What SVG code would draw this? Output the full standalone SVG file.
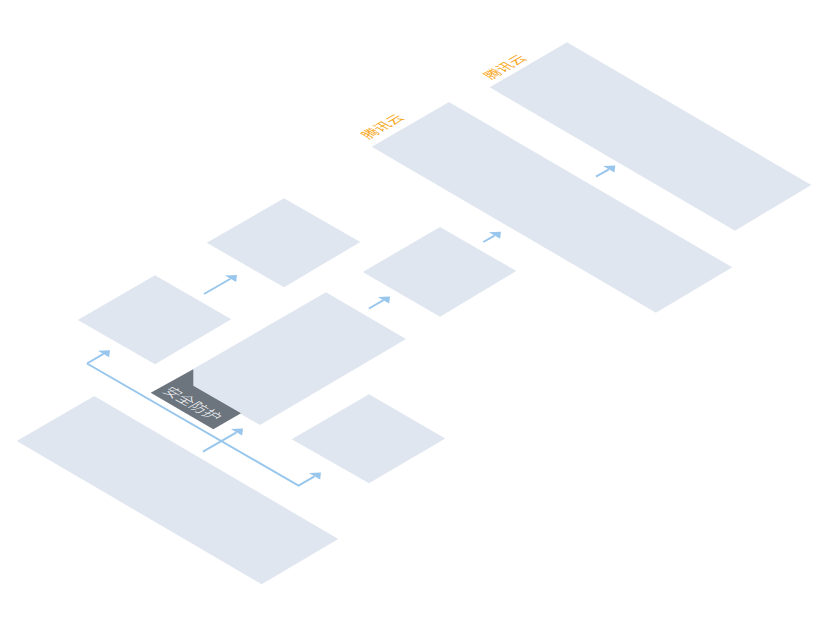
<svg xmlns="http://www.w3.org/2000/svg" width="830" height="620" viewBox="0 0 830 620">
  <style>
    .plate { fill: #e0e6f0; }
    .tab { fill: #6c747e; }
    .conn { fill: none; stroke: #98c6ec; stroke-width: 2; marker-end: url(#arrow); }
    .cloud { font-family: "Noto Sans CJK SC", "Noto Sans", sans-serif; font-size: 14px; font-weight: 400; fill: #f7a81e; }
    .tabtext { font-family: "Noto Sans CJK SC", "Noto Sans", sans-serif; font-size: 15px; font-weight: 300; fill: #ffffff; }
  </style>
  <defs>
    <marker id="arrow" markerUnits="userSpaceOnUse" orient="auto" refX="0" refY="0" markerWidth="20" markerHeight="20" overflow="visible">
      <polygon points="7.5,0 3.25,5.63 -3.25,-5.63" fill="#98c6ec"/>
    </marker>
  </defs>
  <rect width="830" height="620" fill="#ffffff"/>

  <g id="node-base">
    <polygon class="plate" points="16.7,441 94.3,396 338.3,539 261.7,584.3"/>
  </g>
  <g id="node-bottom-right">
    <polygon class="plate" points="291.7,439.3 369,394.3 445.3,438.5 369,483.3"/>
  </g>
  <g id="node-left">
    <polygon class="plate" points="77.7,320 155,275.3 231.3,319.3 155,364.3"/>
  </g>
  <g id="node-top">
    <polygon class="plate" points="206.7,242.7 284,198.3 360.3,242 284,287.3"/>
  </g>
  <g id="node-middle">
    <polygon class="plate" points="362.7,272 440,227 516.3,271 440,316.7"/>
  </g>
  <g id="node-security">
    <polygon class="plate" points="178,377.7 326,292.3 406,339 260,425"/>
    <polygon class="tab" points="193.3,369.3 193.3,385.7 241,413.3 213.3,429.3 150.7,392.7"/>
    <text class="tabtext" text-anchor="middle" x="0" y="5" transform="matrix(0.866 0.5 -0.866 0.5 192 404)">安全防护</text>
  </g>
  <g id="node-cloud-1">
    <polygon class="plate" points="371.7,146.7 449,102 732.3,267.3 656,312.7"/>
    <text class="cloud" text-anchor="middle" x="0" y="5" transform="matrix(0.866 -0.5 0.866 0.5 382.5 126.5)">腾讯云</text>
  </g>
  <g id="node-cloud-2">
    <polygon class="plate" points="489.7,87.3 567,42.3 811.3,185 735,230.7"/>
    <text class="cloud" text-anchor="middle" x="0" y="5" transform="matrix(0.866 -0.5 0.866 0.5 505 67)">腾讯云</text>
  </g>

  <g id="connectors">
    <path class="conn" d="M87,363.5 L103.5,353.95"/>
    <path class="conn" d="M87,363.5 L298.5,485.6 L314.5,476.35"/>
    <path class="conn" d="M204,294 L230.5,278.75"/>
    <path class="conn" d="M369,308.5 L383.5,300.15"/>
    <path class="conn" d="M483.3,242 L494.5,235.55"/>
    <path class="conn" d="M596,176.7 L608.8,169.35"/>
    <path class="conn" d="M203,451.7 L236.5,432.35"/>
  </g>
</svg>
